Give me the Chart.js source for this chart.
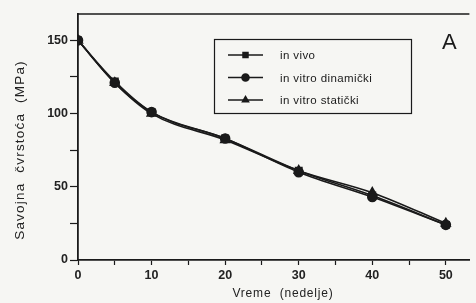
<!DOCTYPE html>
<html>
<head>
<meta charset="utf-8">
<script src="https://cdn.jsdelivr.net/npm/chart.js@4/dist/chart.umd.min.js"></script>
<style>
  html, body { margin: 0; padding: 0; background: #f6f6f3; }
  #wrap { width: 476px; height: 303px; }
</style>
</head>
<body>
<div id="wrap"><canvas id="myChart" width="476" height="303"></canvas></div>
<script>
// PODACI

const weeks = [0, 5, 10, 20, 30, 40, 50];

const inVivo = [150, 122, 101, 83, 61, 44, 24];
const inVitroDin = [150, 121, 101, 83, 60, 43, 24];
const inVitroStat = [150, 121, 100, 82, 61, 46, 25];

const seriesLabels = ['in vivo', 'in vitro dinamički', 'in vitro statički'];
const seriesMarkers = ['rect', 'circle', 'triangle'];

const xTitle = 'Vreme  (nedelje)';
const yTitle = 'Savojna  čvrstoća  (MPa)';

const ink = '#1a1a1a';
const tickFont = { family: 'Liberation Sans', size: 12.5, weight: 'bold' };

function toPoints(arr) {
    return weeks.map((w, i) => ({ x: w, y: arr[i] }));
}

const datasets = [inVivo, inVitroDin, inVitroStat].map((arr, i) => ({
    label: seriesLabels[i],
    data: toPoints(arr),
    borderColor: ink,
    backgroundColor: ink,
    borderWidth: 1.6,
    pointStyle: seriesMarkers[i],
    pointRadius: i === 2 ? 5 : 4.5,
    cubicInterpolationMode: 'monotone',
    fill: false
}));

// legenda u okviru, naslovi osa, oznaka "A", gornja ivica
const framePlugin = {
    id: 'frame',
    afterDraw(chart) {
        const ctx = chart.ctx;
        const area = chart.chartArea;
        ctx.save();
        ctx.strokeStyle = ink;
        ctx.lineWidth = 1.5;
        ctx.beginPath();
        ctx.moveTo(area.left, area.top);
        ctx.lineTo(area.right, area.top);
        ctx.stroke();

        // okvir legende
        ctx.lineWidth = 1.2;
        ctx.strokeRect(214.5, 39.5, 197, 74);
        ctx.font = '11.5px "Liberation Sans"';
        ctx.letterSpacing = '0.4px';
        ctx.textBaseline = 'middle';
        ctx.fillStyle = ink;
        seriesLabels.forEach((lab, i) => {
            const y = 55 + i * 22.5;
            ctx.beginPath();
            ctx.lineWidth = 1.4;
            ctx.moveTo(228, y);
            ctx.lineTo(263, y);
            ctx.stroke();
            Chart.helpers.drawPoint(ctx, { pointStyle: seriesMarkers[i], radius: 3.6, rotation: 0, borderWidth: 1 }, 245.5, y);
            ctx.fill();
            ctx.fillText(lab, 280, y + 1);
        });

        ctx.letterSpacing = '0px';
        ctx.font = '22px "Liberation Sans"';
        ctx.fillText('A', 442, 43);

        // naslovi osa
        ctx.fillStyle = '#222';
        ctx.textAlign = 'center';
        ctx.font = '12px "Liberation Sans"';
        ctx.letterSpacing = '0.8px';
        ctx.fillText(xTitle, 283, 294);
        ctx.translate(20, 150);
        ctx.rotate(-Math.PI / 2);
        ctx.font = '13.5px "Liberation Sans"';
        ctx.letterSpacing = '1.2px';
        ctx.fillText(yTitle, 0, 0);
        ctx.restore();
    }
};

const config = {
    type: 'line',
    data: { datasets: datasets },
    options: {
        responsive: false,
        animation: false,
        layout: { padding: { top: 14, right: 0, left: 0, bottom: 0 } },
        plugins: {
            legend: { display: false },
            tooltip: { enabled: false }
        },
        scales: {
            x: {
                type: 'linear',
                min: 0,
                max: 53.2,
                afterBuildTicks: (axis) => {
                    axis.ticks = [0, 5, 10, 15, 20, 25, 30, 35, 40, 45, 50].map(v => ({ value: v }));
                },
                afterFit: (axis) => { axis.height = 43; },
                ticks: {
                    autoSkip: false,
                    maxRotation: 0,
                    padding: 3,
                    color: '#222',
                    font: tickFont,
                    callback: (v) => Math.round(v) % 10 === 0 ? Math.round(v) : ''
                },
                grid: {
                    drawOnChartArea: false,
                    tickLength: 5,
                    tickColor: ink,
                    tickWidth: 1.2
                },
                border: { color: ink, width: 1.8 }
            },
            y: {
                min: 0,
                max: 168,
                afterBuildTicks: (axis) => {
                    axis.ticks = [0, 25, 50, 75, 100, 125, 150].map(v => ({ value: v }));
                },
                afterFit: (axis) => { axis.width = 78; },
                ticks: {
                    autoSkip: false,
                    padding: 2,
                    color: '#222',
                    font: tickFont,
                    callback: (v) => Math.round(v) % 50 === 0 ? Math.round(v) : ''
                },
                grid: {
                    drawOnChartArea: false,
                    tickLength: 8,
                    tickColor: ink,
                    tickWidth: 1.2
                },
                border: { color: ink, width: 1.8 }
            }
        }
    },
    plugins: [framePlugin]
};

const myChart = new Chart(document.getElementById('myChart'), config);
</script>
</body>
</html>
